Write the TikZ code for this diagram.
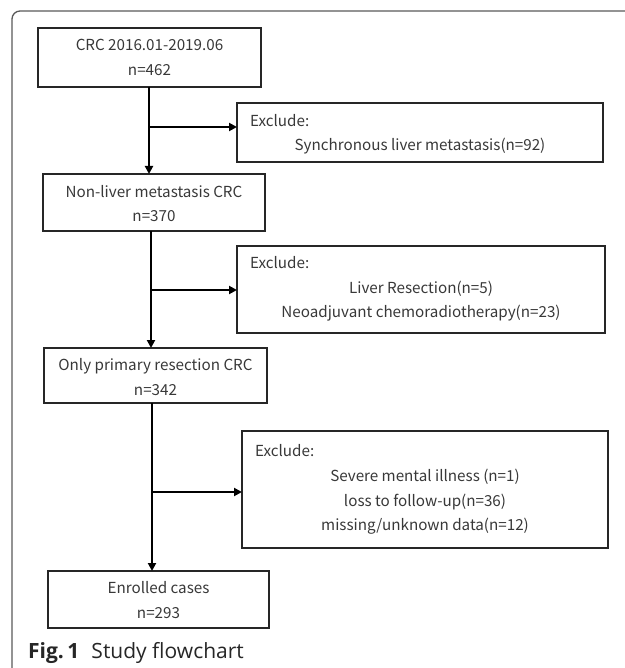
\documentclass[tikz,border=0pt]{standalone}
\usepackage{fontspec}
\setmainfont{Noto Sans CJK SC}
\newfontfamily\capfont{Open Sans}
\usetikzlibrary{arrows.meta}
\begin{document}
\begin{tikzpicture}[x=1pt,y=-1pt,
  box/.style={draw=black!85, line width=1.2pt, inner sep=0pt, outer sep=0pt},
  txt/.style={font=\fontsize{15.2}{25}\selectfont, text=black!78, inner sep=0pt, anchor=base},
  flow/.style={line width=2pt, draw=black, -{Triangle[length=8pt,width=8pt]}},
  frame/.style={draw=black!65, line width=1.3pt, rounded corners=8pt}]
\useasboundingbox (0,0) rectangle (624,668);
\draw[frame] (12,668) -- (12,11) -- (625,11);

% main boxes
\node[box, minimum width=223pt, minimum height=59pt] (b1) at (149.5,57.5) {};
\node[box, minimum width=222pt, minimum height=57pt] (b2) at (154,202.5) {};
\node[box, minimum width=223pt, minimum height=55pt] (b3) at (155.5,375.5) {};
\node[box, minimum width=221pt, minimum height=57pt] (b4) at (158.5,599.5) {};

% exclusion boxes
\node[box, minimum width=366pt, minimum height=59pt] (e1) at (420,132.5) {};
\node[box, minimum width=368pt, minimum height=87pt] (e2) at (421,289.5) {};
\node[box, minimum width=366pt, minimum height=117pt] (e3) at (425,489.5) {};

% texts in main boxes
\node[txt] (b1a) at (149.5,51) {CRC 2016.01-2019.06};
\node[txt] (b1b) at (149.5,76) {n=462};
\node[txt] (b2a) at (154,197) {Non-liver metastasis CRC};
\node[txt] (b2b) at (154,222) {n=370};
\node[txt] (b3a) at (155.5,370) {Only primary resection CRC};
\node[txt] (b3b) at (155.5,395) {n=342};
\node[txt] (b4a) at (158.5,593) {Enrolled cases};
\node[txt] (b4b) at (158.5,618) {n=293};

% texts in exclusion boxes
\node[txt, anchor=base west] (e1a) at (250,127) {Exclude:};
\node[txt] (e1b) at (420,151) {Synchronous liver metastasis(n=92)};
\node[txt, anchor=base west] (e2a) at (250,268) {Exclude:};
\node[txt] (e2b) at (421,293) {Liver Resection(n=5)};
\node[txt] (e2c) at (421,317) {Neoadjuvant chemoradiotherapy(n=23)};
\node[txt, anchor=base west] (e3a) at (255,456) {Exclude:};
\node[txt] (e3b) at (425,481) {Severe mental illness (n=1)};
\node[txt] (e3c) at (425,506) {loss to follow-up(n=36)};
\node[txt] (e3d) at (425,530) {missing/unknown data(n=12)};

% junctions
\coordinate (j1) at (149,127);
\coordinate (j2) at (151,290);
\coordinate (j3) at (152,492);

\draw[flow] (b1.south -| j1) -- (b2.north -| j1);
\draw[flow] (j1) -- (e1.west |- j1);
\draw[flow] (b2.south -| j2) -- (b3.north -| j2);
\draw[flow] (j2) -- (e2.west |- j2);
\draw[flow] (b3.south -| j3) -- (b4.north -| j3);
\draw[flow] (j3) -- (e3.west |- j3);

% caption
\node[anchor=base west, inner sep=0pt, font=\capfont\fontsize{21}{24}\selectfont, text=black!85] (cap) at (28,658) {\textbf{Fig.\,1}\hspace{12pt}Study flowchart};
\end{tikzpicture}
\end{document}
